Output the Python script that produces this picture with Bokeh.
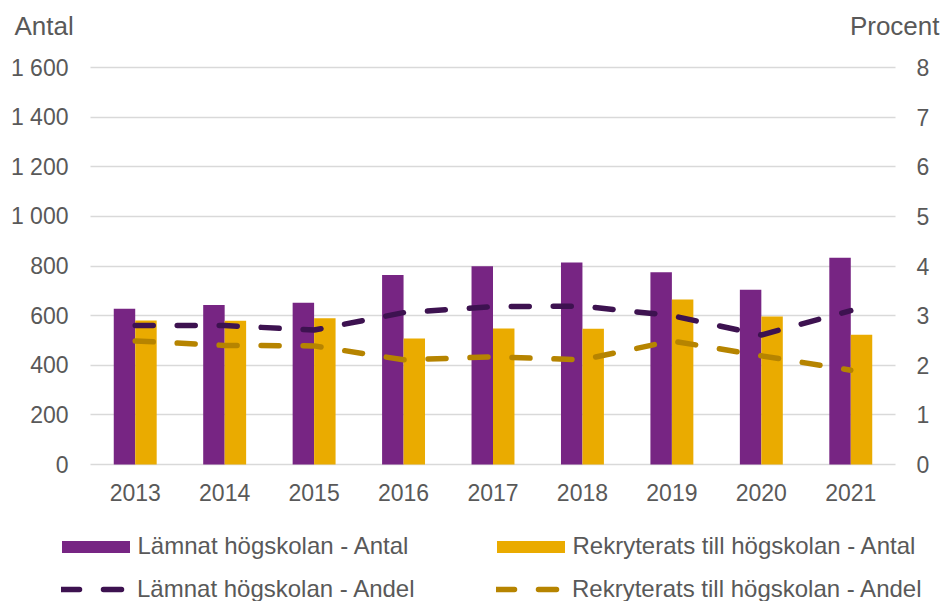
from bokeh.plotting import figure
from bokeh.models import (Range1d, LinearAxis, FixedTicker, Legend, LegendItem, Label,
                          ColumnDataSource)
from bokeh.transform import dodge
from bokeh.embed import file_html
from bokeh.resources import INLINE

years = ["2013", "2014", "2015", "2016", "2017", "2018", "2019", "2020", "2021"]
lamnat_antal = [628, 643, 652, 764, 799, 814, 775, 704, 833]
rekryt_antal = [580, 579, 589, 508, 548, 547, 665, 596, 523]
lamnat_andel = [2.80, 2.80, 2.71, 3.06, 3.18, 3.19, 3.00, 2.61, 3.10]
rekryt_andel = [2.49, 2.40, 2.39, 2.11, 2.17, 2.11, 2.49, 2.19, 1.90]
left_ticks = [0, 200, 400, 600, 800, 1000, 1200, 1400, 1600]
left_tick_labels = ["0", "200", "400", "600", "800", "1 000", "1 200", "1 400", "1 600"]
right_ticks = [0, 1, 2, 3, 4, 5, 6, 7, 8]
axis_titles = ["Antal", "Procent"]
series_names = ["Lämnat högskolan - Antal", "Rekryterats till högskolan - Antal",
                "Lämnat högskolan - Andel", "Rekryterats till högskolan - Andel"]

PURPLE = "#772583"
YELLOW = "#EAAB00"
DARK = "#3D1250"
GOLD = "#B68400"
GRID = "#D9D9D9"
TXT = "#595959"
FONT = "Liberation Sans"

# ---- layout (pixels): plot area inside a full-canvas frame ----
W, H = 944, 601
PL, PR, PT, PB = 90, 895, 67, 464
NCAT = len(years)
YMAX, PMAX = 1600, 8
ux = (PR - PL) / NCAT          # px per category
uy = (PB - PT) / YMAX          # px per unit (left axis)
x_start, x_end = -PL / ux, NCAT + (W - PR) / ux
y_start, y_end = -(H - PB) / uy, YMAX + PT / uy
ratio = YMAX / PMAX

def px2x(px):
    return (px - PL) / ux

def py2y(py):
    return (PB - py) / uy

centers = [i + 0.5 for i in range(NCAT)]
src = ColumnDataSource(dict(xc=centers, la=lamnat_antal, ra=rekryt_antal,
                            lp=lamnat_andel, rp=rekryt_andel))

p = figure(width=W, height=H, x_range=Range1d(x_start, x_end), y_range=Range1d(y_start, y_end),
           min_border=0, x_axis_location=None, y_axis_location=None,
           output_backend="svg", toolbar_location=None, tools="")
p.extra_y_ranges = {"pct": Range1d(y_start / ratio, y_end / ratio)}
p.outline_line_color = None
p.grid.visible = False

b1 = p.vbar(x=dodge("xc", -0.12), top="la", width=0.24, source=src,
            fill_color=PURPLE, line_color=None)
b2 = p.vbar(x=dodge("xc", 0.12), top="ra", width=0.24, source=src,
            fill_color=YELLOW, line_color=None)
l1 = p.line(x="xc", y="lp", source=src, y_range_name="pct", line_color=DARK,
            line_width=5.5, line_dash="18 24", line_cap="round")
l2 = p.line(x="xc", y="rp", source=src, y_range_name="pct", line_color=GOLD,
            line_width=5.5, line_dash="18 24", line_cap="round")

def style_axis(ax, standoff):
    ax.axis_line_color = None
    ax.major_tick_line_color = None
    ax.minor_tick_line_color = None
    ax.major_tick_out = 0
    ax.major_tick_in = 0
    ax.major_label_text_font = FONT
    ax.major_label_text_font_size = "23px"
    ax.major_label_text_color = TXT
    ax.major_label_standoff = standoff

# left axis (its inward ticks form the horizontal gridlines, drawn under the bars)
yax = LinearAxis(ticker=FixedTicker(ticks=left_ticks), fixed_location=0, level="underlay")
style_axis(yax, 22)
yax.major_label_overrides = {t: s for t, s in zip(left_ticks, left_tick_labels)}
yax.major_tick_in = PR - PL
yax.major_tick_line_color = GRID
yax.major_tick_line_width = 1.5
p.add_layout(yax, "left")

# right axis (percent)
rax = LinearAxis(y_range_name="pct", ticker=FixedTicker(ticks=right_ticks), fixed_location=NCAT)
style_axis(rax, 21)
p.add_layout(rax, "right")

# category axis at y = 0
xax = LinearAxis(ticker=FixedTicker(ticks=centers), fixed_location=0)
style_axis(xax, 19)
xax.major_label_overrides = {c: y for c, y in zip(centers, years)}
p.add_layout(xax, "below")

# axis titles
p.add_layout(Label(x=px2x(14), y=py2y(25), text=axis_titles[0], text_font=FONT,
                   text_font_size="26px", text_color=TXT, text_align="left",
                   text_baseline="alphabetic"))
p.add_layout(Label(x=px2x(939), y=py2y(25), text=axis_titles[1], text_font=FONT,
                   text_font_size="26px", text_color=TXT, text_align="right",
                   text_baseline="alphabetic"))

# legend: four single-entry legends in a 2 x 2 arrangement
def mk_legend(name, r, vx, vy, gw, gh, standoff):
    lg = Legend(items=[LegendItem(label=name, renderers=[r])], location=(vx, vy),
                glyph_width=gw, glyph_height=gh, label_standoff=standoff,
                label_text_font=FONT, label_text_font_size="24px", label_text_color=TXT,
                label_height=12, padding=0, margin=0, spacing=0,
                border_line_color=None, background_fill_alpha=0)
    p.add_layout(lg, "center")

# bar swatches are drawn with a 10% inset inside the glyph box
mk_legend(series_names[0], b1, 52.5, 41, 85, 15, 0)
mk_legend(series_names[1], b2, 487.5, 41, 85, 15, 0)
mk_legend(series_names[2], l1, 61, -2, 66, 12, 10)
mk_legend(series_names[3], l2, 496, -2, 66, 12, 10)

open("out.html", "w").write(file_html(p, INLINE))
